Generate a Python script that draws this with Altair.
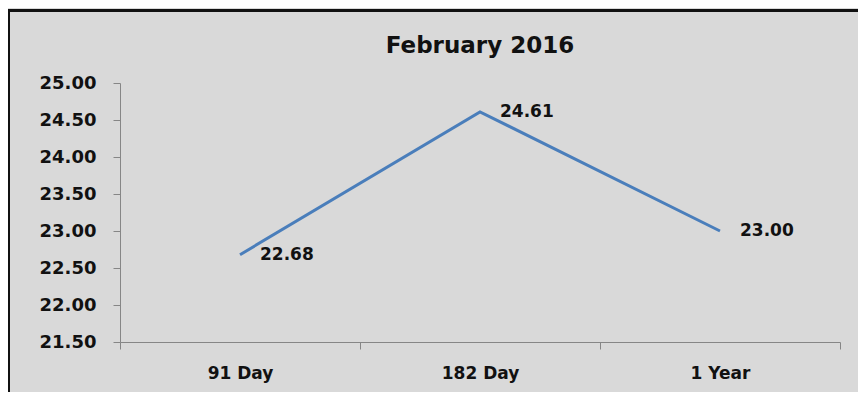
import altair as alt
import pandas as pd

categories = ["91 Day", "182 Day", "1 Year"]
rates = [22.68, 24.61, 23.00]
y_ticks = [21.5, 22.0, 22.5, 23.0, 23.5, 24.0, 24.5, 25.0]

df = pd.DataFrame({"term": categories, "rate": rates})

FONT = "DejaVu Sans"
AXIS_GRAY = "#868686"

x_enc = alt.X(
    "term:N",
    sort=categories,
    scale=alt.Scale(type="band", paddingInner=0, paddingOuter=0),
    axis=alt.Axis(
        title=None, labelAngle=0, tickBand="extent", labelFont=FONT,
        labelFontSize=17, labelFontWeight="bold", labelColor="#111111",
        domainColor=AXIS_GRAY, tickColor=AXIS_GRAY, tickSize=7,
        labelPadding=16, grid=False,
    ),
)
y_enc = alt.Y(
    "rate:Q",
    scale=alt.Scale(domain=[21.5, 25.0], nice=False, zero=False),
    axis=alt.Axis(
        title=None, values=y_ticks, format=".2f", labelFont=FONT,
        labelFontSize=18, labelFontWeight="bold", labelColor="#111111",
        domainColor=AXIS_GRAY, tickColor=AXIS_GRAY, tickSize=7,
        labelPadding=17, grid=False,
    ),
)

line = alt.Chart(df).mark_line(color="#4A7EBB", strokeWidth=3).encode(x=x_enc, y=y_enc)
labels = alt.Chart(df).mark_text(
    align="left", baseline="middle", dx=20, font=FONT, fontSize=17,
    fontWeight="bold", color="#111111",
).encode(x=x_enc, y=y_enc, text=alt.Text("rate:Q", format=".2f"))

frame = alt.Chart(df).mark_rect(
    fill=None, stroke="#111111", strokeWidth=3, clip=False
).encode(
    x=alt.value(-111.5), x2=alt.value(780), y=alt.value(-72.5), y2=alt.value(500)
)

chart = alt.layer(frame, line, labels).properties(
    width=720,
    height=259,
    padding={"left": 112, "top": 75, "right": 18, "bottom": 50},
    autosize=alt.AutoSizeParams(type="none"),
    background="#D9D9D9",
    title=alt.Title(
        "February 2016", font=FONT, fontSize=23, fontWeight="bold",
        color="#111111", anchor="middle", frame="group", offset=-49,
    ),
).configure_view(stroke=None)

chart.save("out.html", embed_options={"renderer": "svg", "actions": False})
